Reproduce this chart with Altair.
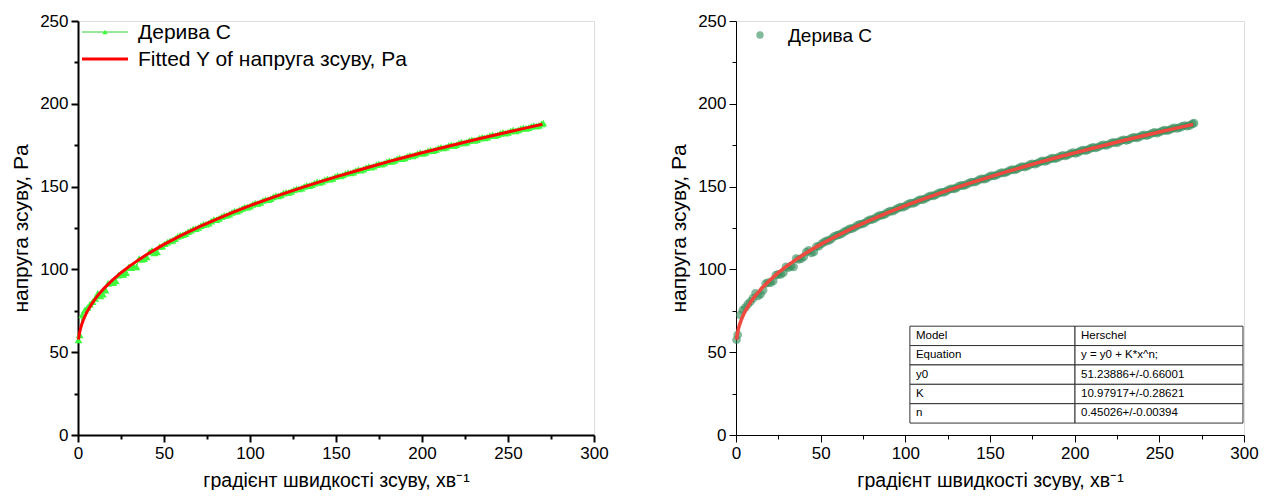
import altair as alt
import pandas as pd

# ---------------- data ----------------
shear_rate_a = [0.3, 1, 4, 7, 10, 13, 16, 19, 22, 25, 28, 31, 34, 37, 40, 43, 46, 49,
                52, 55, 58, 61, 64, 67, 70, 73, 76, 79, 82, 85, 88, 91, 94, 97, 100,
                103, 106, 109, 112, 115, 118, 121, 124, 127, 130, 133, 136, 139, 142,
                145, 148, 151, 154, 157, 160, 163, 166, 169, 172, 175, 178, 181, 184,
                187, 190, 193, 196, 199, 202, 205, 208, 211, 214, 217, 220, 223, 226,
                229, 232, 235, 238, 241, 244, 247, 250, 253, 256, 259, 262, 265, 268, 270.5]
shear_stress_a = [57.5, 60.5, 75.5, 79.0, 82.5, 84.0, 87.5, 92.0, 93.0, 97.0, 98.0,
                  101.0, 101.5, 106.0, 107.5, 111.5, 110.5, 114.0, 116.5, 117.5, 120.0,
                  121.0, 122.8, 124.5, 125.3, 127.2, 128.0, 130.0, 130.8, 132.6, 133.4,
                  135.2, 135.9, 137.6, 138.2, 140.0, 140.5, 142.2, 142.8, 144.5, 145.0,
                  146.6, 147.1, 148.7, 149.1, 150.8, 151.2, 152.8, 153.1, 154.7, 155.0,
                  156.6, 157.0, 158.4, 158.8, 160.3, 160.6, 162.1, 162.3, 163.8, 164.1,
                  165.5, 165.8, 167.2, 167.4, 168.9, 169.1, 170.5, 170.7, 172.1, 172.3,
                  173.7, 173.9, 175.2, 175.4, 176.8, 176.9, 178.3, 178.4, 179.8, 179.9,
                  181.2, 181.3, 182.7, 182.8, 184.1, 184.2, 185.5, 185.6, 186.9, 187.0, 188.3]
shear_rate_b = [2.5, 5.5, 8.5, 11.5, 14.5, 17.5, 20.5, 23.5, 26.5, 29.5, 32.5, 35.5,
                38.5, 41.5, 44.5, 47.5, 50.5, 53.5, 56.5, 59.5, 62.5, 65.5, 68.5, 71.5,
                74.5, 77.5, 80.5, 83.5, 86.5, 89.5, 92.5, 95.5, 98.5, 101.5, 104.5,
                107.5, 110.5, 113.5, 116.5, 119.5, 122.5, 125.5, 128.5, 131.5, 134.5,
                137.5, 140.5, 143.5, 146.5, 149.5, 152.5, 155.5, 158.5, 161.5, 164.5,
                167.5, 170.5, 173.5, 176.5, 179.5, 182.5, 185.5, 188.5, 191.5, 194.5,
                197.5, 200.5, 203.5, 206.5, 209.5, 212.5, 215.5, 218.5, 221.5, 224.5,
                227.5, 230.5, 233.5, 236.5, 239.5, 242.5, 245.5, 248.5, 251.5, 254.5,
                257.5, 260.5, 263.5, 266.5, 269.5]
shear_stress_b = [72.5, 77.0, 80.5, 85.5, 85.0, 91.5, 92.0, 96.5, 97.0, 101.5, 102.0,
                  106.5, 106.5, 110.5, 110.0, 113.8, 115.5, 117.2, 118.6, 120.5, 121.6,
                  123.5, 124.6, 126.4, 127.4, 129.2, 130.1, 131.9, 132.7, 134.4, 135.2,
                  136.9, 137.6, 139.3, 139.9, 141.6, 142.1, 143.8, 144.4, 146.0, 146.5,
                  148.1, 148.6, 150.1, 150.6, 152.1, 152.6, 154.1, 154.5, 156.0, 156.4,
                  157.9, 158.2, 159.7, 160.0, 161.5, 161.8, 163.3, 163.5, 165.0, 165.2,
                  166.7, 166.9, 168.3, 168.5, 170.0, 170.1, 171.6, 171.7, 173.2, 173.3,
                  174.8, 174.8, 176.3, 176.4, 177.8, 177.9, 179.3, 179.4, 180.8, 180.8,
                  182.2, 182.3, 183.6, 183.7, 185.0, 185.1, 186.4, 186.5, 187.9]

fit_rate = [0.3, 0.5, 1, 1.5, 2, 3, 4, 5, 6, 8, 10, 12, 15, 20, 25, 30, 35, 40, 45, 50,
            60, 70, 80, 90, 100, 110, 120, 130, 140, 150, 160, 170, 180, 190, 200,
            210, 220, 230, 240, 250, 260, 270]
fit_stress = [57.6, 59.3, 62.2, 64.4, 66.2, 69.2, 71.7, 73.9, 75.8, 79.2, 82.2, 84.8,
              88.4, 93.5, 98.0, 102.0, 105.6, 109.0, 112.1, 115.1, 120.5, 125.5, 130.1,
              134.4, 138.5, 142.3, 145.9, 149.4, 152.7, 155.9, 159.0, 162.0, 164.9,
              167.7, 170.4, 173.0, 175.6, 178.1, 180.6, 183.0, 185.3, 187.6]

series_name = "Дерива С"
fit_name = "Fitted Y of напруга зсуву, Pa"
x_title = "градієнт швидкості зсуву, хв⁻¹"
y_title = "напруга зсуву, Pa"

table_params = ["Model", "Equation", "y0", "K", "n"]
table_values = ["Herschel", "y = y0 + K*x^n;", "51.23886+/-0.66001",
                "10.97917+/-0.28621", "0.45026+/-0.00394"]

x_ticks = list(range(0, 301, 25))
y_ticks = list(range(0, 251, 25))

# ---------------- styling / layout ----------------
FONT = "Liberation Sans"
W_L, W_R, H = 516, 508, 414

data_df = pd.concat([
    pd.DataFrame({"x": shear_rate_a, "y": shear_stress_a}),
    pd.DataFrame({"x": shear_rate_b, "y": shear_stress_b}),
]).sort_values("x").reset_index(drop=True)
fit_df = pd.DataFrame({"x": fit_rate, "y": fit_stress})


def axis(values, title_pad, line_w, title_size):
    return alt.Axis(
        values=values,
        labelExpr="datum.value % 50 === 0 ? datum.label : ''",
        labelOverlap=False,
        labelFlush=False,
        tickSize={"condition": {"test": "datum.value % 50 === 0", "value": 7}, "value": 4},
        tickColor="black",
        tickWidth=line_w,
        domainColor="black",
        domainWidth=line_w,
        labelFont=FONT,
        labelFontSize=17,
        labelColor="black",
        labelPadding=3,
        titleFont=FONT,
        titleFontSize=title_size,
        titleFontWeight="normal",
        titleColor="black",
        titlePadding=title_pad,
        grid=False,
    )


xs = alt.Scale(domain=[0, 300], nice=False, zero=False)
ys = alt.Scale(domain=[0, 250], nice=False, zero=False)


def enc_xy(line_w):
    return dict(
        x=alt.X("x:Q", scale=xs, axis=axis(x_ticks, 10, line_w, 19.5), title=x_title),
        y=alt.Y("y:Q", scale=ys, axis=axis(y_ticks, 8, line_w, 21), title=y_title),
    )


# ---------- left panel ----------
left_line = alt.Chart(data_df).mark_line(color="#33ee33", strokeWidth=1).encode(**enc_xy(2))
left_pts = alt.Chart(data_df).mark_point(shape="triangle-up", filled=True, size=60,
                                         color="#3dfc3d", opacity=1).encode(**enc_xy(2))
left_fit = alt.Chart(fit_df).mark_line(color="#ff0000", strokeWidth=3).encode(**enc_xy(2))

leg1 = pd.DataFrame({"label": [series_name]})
leg2 = pd.DataFrame({"label": [fit_name]})
l_leg_line = alt.Chart(leg1).mark_rule(color="#33cc33", strokeWidth=1).encode(
    x=alt.value(4), x2=alt.value(50), y=alt.value(11))
l_leg_pt = alt.Chart(leg1).mark_point(shape="triangle-up", filled=True, size=30,
                                      color="#3dfc3d", opacity=1).encode(
    x=alt.value(27), y=alt.value(11))
l_leg_txt1 = alt.Chart(leg1).mark_text(align="left", baseline="middle", font=FONT,
                                       fontSize=21, color="black").encode(
    x=alt.value(60), y=alt.value(12), text="label:N")
l_leg_fit = alt.Chart(leg2).mark_rule(color="#ff0000", strokeWidth=3).encode(
    x=alt.value(4), x2=alt.value(50), y=alt.value(38))
l_leg_txt2 = alt.Chart(leg2).mark_text(align="left", baseline="middle", font=FONT,
                                       fontSize=21, color="black").encode(
    x=alt.value(60), y=alt.value(39), text="label:N")

left = alt.layer(left_line, left_pts, left_fit, l_leg_line, l_leg_pt, l_leg_txt1,
                 l_leg_fit, l_leg_txt2).properties(width=W_L, height=H)

# ---------- right panel ----------
right_pts = alt.Chart(data_df).mark_circle(size=75, color="#2e8b57", opacity=0.6).encode(**enc_xy(1))
right_fit = alt.Chart(fit_df).mark_line(color="#f04a40", strokeWidth=3.5).encode(**enc_xy(1))
r_leg_pt = alt.Chart(leg1).mark_circle(size=55, color="#2e8b57", opacity=0.6).encode(
    x=alt.value(24), y=alt.value(14))
r_leg_txt = alt.Chart(leg1).mark_text(align="left", baseline="middle", font=FONT,
                                      fontSize=19, color="black").encode(
    x=alt.value(52), y=alt.value(15), text="label:N")

# table placed in data units of the right panel
t_left, t_mid, t_right = 102.7, 200.2, 299.4
t_top, t_bottom = 65.7, 7.2
row_h = (t_top - t_bottom) / len(table_params)
cells = []
for i, (p, v) in enumerate(zip(table_params, table_values)):
    y_hi = t_top - i * row_h
    y_lo = y_hi - row_h
    cells.append({"x": t_left, "x2": t_mid, "y": y_lo, "y2": y_hi,
                  "yc": (y_lo + y_hi) / 2, "label": p})
    cells.append({"x": t_mid, "x2": t_right, "y": y_lo, "y2": y_hi,
                  "yc": (y_lo + y_hi) / 2, "label": v})
cells_df = pd.DataFrame(cells)
table_rect = alt.Chart(cells_df).mark_rect(fill="white", stroke="#333333", strokeWidth=1).encode(
    x=alt.X("x:Q", scale=xs), x2="x2:Q", y=alt.Y("y:Q", scale=ys), y2="y2:Q")
table_txt = alt.Chart(cells_df).mark_text(align="left", baseline="middle", font=FONT,
                                          fontSize=11.5, color="black", dx=6).encode(
    x=alt.X("x:Q", scale=xs), y=alt.Y("yc:Q", scale=ys), text="label:N")

right = alt.layer(right_pts, right_fit, r_leg_pt, r_leg_txt, table_rect, table_txt
                  ).properties(width=W_R, height=H)

chart = alt.hconcat(left, right, spacing=59).properties(
    padding={"left": 2, "top": 3, "right": 0, "bottom": 0}
).configure_view(stroke=None).configure(font=FONT)

chart.save("out.html", embed_options={"renderer": "svg", "actions": False})
